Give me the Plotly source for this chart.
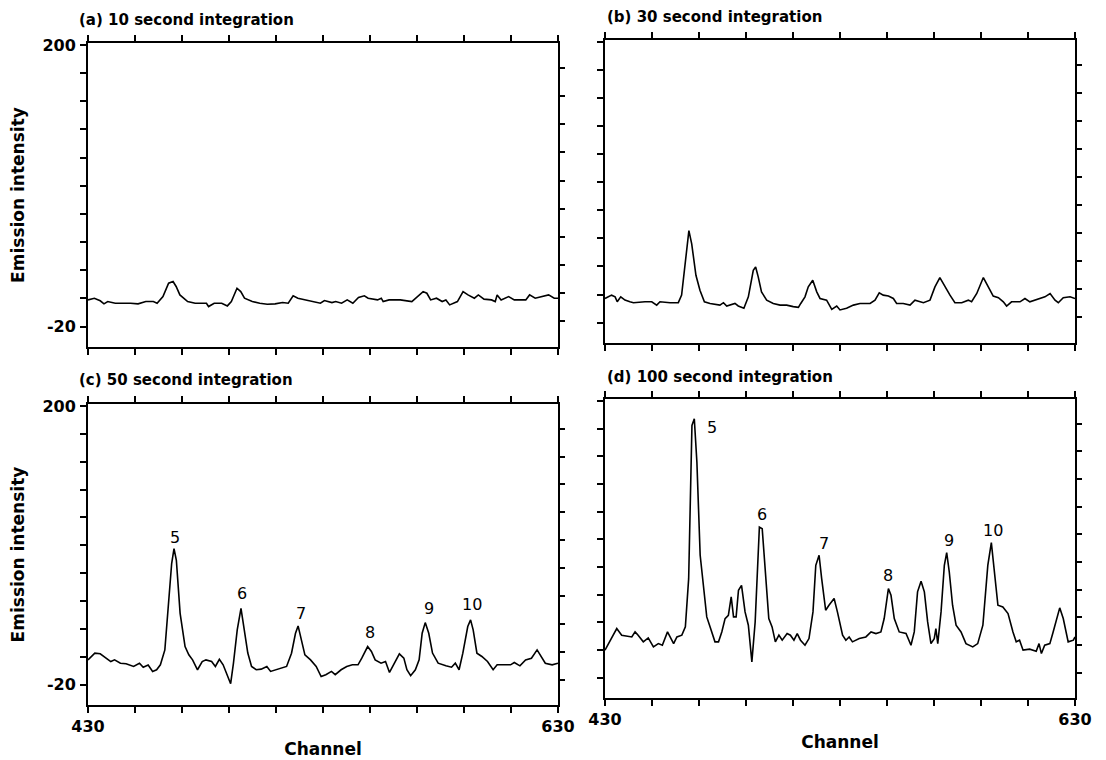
import plotly.graph_objects as go

# ---------------- data ----------------
CH_A = [430, 432.7, 435.2, 436.8, 438.4, 441.6, 448.1, 451.3, 454.6, 457.8,
        459.4, 461.9, 464.3, 466.2, 467.5, 469.1, 472.4, 475.6, 480.4, 481.3,
        483.7, 486.9, 489.3, 491.0, 493.4, 495.0, 496.6, 499.9, 503.1, 506.3,
        509.6, 512.8, 515.2, 517.3, 519.3, 522.5, 525.7, 528.9, 530.6, 533.8,
        535.4, 537.9, 540.3, 542.7, 545.1, 547.6, 549.2, 553.2, 554.8, 555.6,
        558.1, 562.9, 567.8, 570.2, 572.6, 574.2, 575.8, 578.3, 580.7, 582.3,
        583.9, 587.2, 589.6, 591.7, 594.4, 596.1, 598.5, 601.7, 603.3, 604.1,
        605.8, 609.0, 611.4, 616.3, 617.9, 620.3, 622.7, 626.0, 628.4, 630]
VAL_A = [0.8, 2.1, 0.1, -2.3, -0.5, -1.8, -1.8, -2.3, -0.5, -0.5,
         -1.8, 3.4, 13.9, 15.2, 11.3, 4.7, -0.5, -1.8, -1.8, -4.4,
         -1.8, -1.8, -3.9, -0.5, 9.9, 7.3, 2.1, -0.5, -1.8, -2.6,
         -2.3, -1.3, -1.8, 4.0, 2.1, 0.8, -0.5, -1.8, 0.3, -1.3,
         -0.5, -1.8, 0.8, -1.8, 2.7, 4.0, 2.1, 0.8, 2.1, -0.5,
         0.8, 0.8, -0.5, 3.4, 7.3, 6.0, 0.8, 2.1, -0.5, 0.8,
         -3.1, -0.5, 7.3, 4.7, 2.1, 4.7, 1.4, 0.8, -0.5, 4.7,
         0.8, 3.4, 0.8, 0.8, 4.7, 2.1, 3.4, 4.7, 2.1, 2.1]

CH_B = [430, 432.8, 434.3, 435.2, 436.7, 438.5, 440.6, 442.1, 447.0, 449.9,
        452.0, 453.4, 457.7, 461.2, 462.6, 464.0, 465.7, 466.9, 468.7, 470.4,
        472.3, 474.7, 478.9, 480.4, 481.8, 485.3, 486.7, 489.1, 491.0, 493.1,
        494.1, 495.2, 496.6, 498.8, 501.6, 504.5, 507.3, 510.1, 512.3, 513.3,
        515.1, 516.5, 518.4, 520.1, 521.5, 524.3, 526.5, 528.6, 530.0, 532.8,
        535.7, 538.5, 542.8, 544.9, 546.7, 548.4, 550.6, 552.7, 554.1, 556.9,
        559.8, 561.9, 565.5, 568.3, 570.4, 572.5, 574.7, 576.8, 578.9, 581.8,
        584.6, 586.0, 588.2, 591.0, 593.1, 595.2, 597.4, 599.5, 600.9, 603.0,
        606.6, 608.7, 610.8, 613.7, 617.2, 619.4, 621.5, 622.9, 625.0, 627.9,
        630]
VAL_B = [-1.1, 1.5, 0.2, -3.7, 0.2, -2.4, -3.7, -4.4, -3.7, -3.7,
         -6.3, -3.7, -4.4, -4.4, 1.5, 26.2, 52.1, 41.7, 17.1, 5.4,
         -3.7, -5.0, -6.3, -4.4, -7.0, -5.0, -7.0, -8.8, 0.2, 21.0,
         23.6, 15.8, 4.1, -2.4, -5.0, -6.3, -6.3, -7.5, -8.1, -5.0,
         0.2, 8.0, 13.2, 4.1, -1.1, -2.4, -9.6, -7.0, -10.1, -8.8,
         -6.3, -5.0, -5.0, -2.4, 3.3, 1.5, 0.8, -1.1, -5.0, -5.0,
         -6.3, -2.4, -4.4, -2.4, 8.0, 15.3, 8.0, 1.5, -4.4, -4.4,
         -2.4, -3.7, 2.8, 15.3, 8.0, 0.8, -0.5, -3.7, -7.0, -3.7,
         -3.7, -1.1, -3.7, -1.8, 0.2, 2.8, -2.4, -4.4, -0.5, 0.2,
         -1.1]

CH_C = [430.0, 432.9, 435.2, 437.3, 439.7, 441.3, 443.8, 446.2, 449.4, 451.9,
        453.5, 455.6, 457.5, 459.2, 460.8, 462.7, 464.0, 465.6, 466.6, 467.6,
        469.2, 471.3, 472.9, 474.5, 476.6, 478.6, 480.2, 482.6, 484.2, 485.9,
        487.5, 489.1, 490.7, 491.9, 493.5, 495.1, 496.4, 498.0, 499.6, 501.6,
        503.7, 506.1, 507.7, 510.1, 512.2, 514.5, 516.6, 518.3, 519.4, 520.7,
        522.3, 524.7, 527.1, 529.2, 531.2, 533.6, 535.2, 537.7, 540.1, 542.5,
        544.9, 546.5, 549.0, 550.6, 552.2, 554.7, 556.6, 558.3, 560.4, 562.5,
        564.4, 565.7, 567.3, 569.3, 570.9, 572.2, 573.5, 575.0, 576.6, 579.0,
        582.3, 584.7, 586.3, 587.9, 589.5, 591.6, 592.8, 593.9, 595.5, 597.6,
        600.0, 602.4, 604.1, 606.5, 609.8, 611.4, 613.8, 616.2, 618.7, 621.1,
        622.7, 624.6, 627.5, 630.0]
VAL_C = [-0.4, 4.9, 4.4, 1.8, -1.7, -0.4, -3.0, -3.5, -5.6, -3.0,
         -6.2, -4.4, -9.5, -8.2, -4.3, 7.5, 36.3, 75.6, 87.4, 78.2,
         36.3, 10.1, 3.6, -0.4, -8.2, -1.7, -0.4, -1.7, -5.6, 0.1,
         -4.3, -12.1, -19.2, -3.0, 23.2, 40.2, 25.9, 5.0, -5.6, -8.2,
         -7.7, -5.6, -9.5, -8.2, -6.9, -5.6, 4.9, 20.6, 26.4, 15.4,
         3.6, -0.4, -5.6, -13.5, -12.1, -9.5, -12.1, -8.2, -5.6, -4.3,
         -4.3, 0.9, 10.1, 6.2, -0.4, -3.0, -1.7, -10.3, -3.0, 4.4,
         1.0, -8.2, -12.9, -8.2, -0.4, 20.6, 29.0, 20.6, 5.0, -3.0,
         -5.1, -6.2, -3.0, -8.2, 4.9, 25.9, 31.2, 23.3, 4.9, 2.3,
         -1.7, -8.2, -4.3, -4.3, -4.3, -2.5, -5.1, -0.4, 0.9, 7.5,
         2.3, -3.0, -4.3, -3.0]

CH_D = [430.0, 435.0, 437.1, 441.4, 442.8, 444.1, 446.3, 448.4, 450.6, 452.7,
        454.4, 456.6, 459.2, 460.6, 462.7, 464.2, 465.6, 467.0, 468.0, 469.1,
        470.5, 471.9, 473.3, 474.7, 476.8, 478.3, 479.7, 481.1, 482.5, 483.7,
        484.7, 485.8, 486.8, 488.1, 489.6, 491.0, 492.5, 493.9, 495.7, 496.9,
        498.3, 499.7, 501.1, 502.5, 504.0, 505.4, 507.5, 508.9, 510.4, 511.8,
        513.2, 515.1, 516.8, 518.5, 519.7, 521.1, 522.2, 523.9, 525.3, 527.5,
        528.9, 531.1, 532.5, 533.9, 535.3, 538.2, 541.0, 543.2, 545.3, 547.4,
        548.8, 550.6, 551.7, 553.1, 555.2, 558.1, 560.2, 561.6, 563.0, 564.5,
        565.9, 567.3, 568.7, 570.1, 570.8, 571.6, 573.0, 574.4, 575.4, 576.5,
        577.9, 579.4, 581.5, 583.6, 586.5, 588.6, 590.8, 592.9, 594.4, 595.8,
        597.2, 599.3, 601.5, 603.6, 605.0, 606.4, 607.9, 610.7, 613.5, 614.7,
        615.7, 617.1, 619.3, 620.7, 623.5, 625.0, 627.1, 629.3, 630.0]
VAL_D = [2.0, 19.2, 13.9, 12.5, 16.5, 13.9, 8.6, 11.7, 4.6, 7.2,
         5.9, 16.5, 7.2, 12.5, 13.9, 20.5, 58.8, 180.5, 185.8, 151.4,
         77.4, 53.5, 28.4, 20.5, 8.6, 8.6, 16.5, 27.1, 29.7, 44.3,
         28.4, 28.4, 49.6, 53.5, 32.4, 21.8, -7.3, 24.4, 99.8, 98.5,
         64.1, 27.1, 20.5, 8.6, 13.9, 9.9, 15.2, 13.9, 9.9, 15.2,
         9.9, 5.9, 11.2, 32.4, 69.4, 77.4, 58.8, 33.7, 37.7, 43.0,
         32.4, 13.9, 9.9, 12.5, 8.6, 11.2, 12.5, 16.5, 15.2, 16.5,
         27.1, 50.9, 45.6, 27.1, 16.5, 15.2, 5.9, 16.5, 48.3, 56.7,
         48.3, 24.4, 7.2, 11.2, 19.2, 7.2, 32.4, 69.4, 79.5, 64.1,
         37.7, 21.8, 16.5, 7.2, 4.6, 7.2, 21.8, 69.4, 87.4, 64.1,
         37.7, 36.3, 31.1, 16.5, 8.6, 9.9, 2.0, 2.8, 1.2, 7.2,
         -0.7, 5.9, 7.2, 16.5, 35.6, 27.1, 8.6, 9.9, 12.5]

PANEL_TITLES = ["(a) 10 second integration", "(b) 30 second integration",
                "(c) 50 second integration", "(d) 100 second integration"]

PEAK_LABELS = ["5", "6", "7", "8", "9", "10"]
PEAK_X_C = [467.2, 495.6, 520.7, 549.8, 575.0, 593.6]
PEAK_Y_C = [96.5, 52.0, 36.0, 21.4, 40.0, 43.6]
PEAK_X_D = [475.5, 497.0, 523.0, 550.6, 576.3, 595.0]
PEAK_Y_D = [179.0, 110.0, 86.6, 61.0, 89.0, 97.0]

X_TICKS = [430, 450, 470, 490, 510, 530, 550, 570, 590, 610, 630]
X_TICK_TEXT = ["430", "", "", "", "", "", "", "", "", "", "630"]
Y_TICKS = [-20, 2, 24, 46, 68, 90, 112, 134, 156, 178, 200]
Y_TICK_TEXT = ["-20", "", "", "", "", "", "", "", "", "", "200"]
Y_TICKS_RIGHT = [-16, 6, 28, 50, 72, 94, 116, 138, 160, 182]

X_RANGE = [430, 630]
Y_RANGE = [-36, 201.5]

# ---------------- layout geometry ----------------
W, H = 1106, 760
OFF = 8  # page body margin offset of the rendered figure
FONT = "DejaVu Sans"


def px_x(v):
    return (v - OFF) / W


def px_y(v):
    return 1 - (v - OFF) / H


dom = {
    1: ([px_x(88), px_x(558)], [px_y(347), px_y(43)]),
    2: ([px_x(605), px_x(1075)], [px_y(343), px_y(40)]),
    3: ([px_x(88), px_x(558)], [px_y(705), px_y(404)]),
    4: ([px_x(605), px_x(1075)], [px_y(698), px_y(399)]),
}

fig = go.Figure()
series = [(CH_A, VAL_A), (CH_B, VAL_B), (CH_C, VAL_C), (CH_D, VAL_D)]
for i, (cx, cy) in enumerate(series, start=1):
    sfx = "" if i == 1 else str(i)
    fig.add_trace(go.Scatter(x=cx, y=cy, mode="lines",
                             line=dict(color="black", width=1.6),
                             xaxis="x" + sfx, yaxis="y" + sfx,
                             showlegend=False, hoverinfo="skip"))
    fig.add_trace(go.Scatter(x=[None], y=[None], mode="lines",
                             xaxis="x" + sfx, yaxis="y" + str(i + 4),
                             showlegend=False, hoverinfo="skip"))

layout = dict(width=W, height=H,
              margin=dict(l=0, r=0, t=0, b=0, pad=0, autoexpand=False),
              paper_bgcolor="white", plot_bgcolor="white",
              font=dict(family=FONT, color="black", size=16))

for i in range(1, 5):
    sfx = "" if i == 1 else str(i)
    xd, yd = dom[i]
    bottom = i in (3, 4)
    left = i in (1, 3)
    layout["xaxis" + sfx] = dict(
        domain=xd, anchor="y" + sfx, range=X_RANGE, automargin=False,
        tickvals=X_TICKS, ticktext=X_TICK_TEXT, showticklabels=bottom,
        ticks="outside", ticklen=6, tickwidth=2, tickcolor="black",
        showline=True, linewidth=2, linecolor="black", mirror="ticks",
        showgrid=False, zeroline=False,
        tickfont=dict(family=FONT, size=16, weight="bold"),
        title=dict(text="Channel" if bottom else "",
                   font=dict(family=FONT, size=17, weight="bold"), standoff=8),
    )
    layout["yaxis" + sfx] = dict(
        domain=yd, anchor="x" + sfx, range=Y_RANGE, automargin=False,
        tickvals=Y_TICKS, ticktext=Y_TICK_TEXT, showticklabels=left,
        ticks="outside", ticklen=6, tickwidth=2, tickcolor="black",
        showline=True, linewidth=2, linecolor="black", mirror=True,
        showgrid=False, zeroline=False, ticklabelstandoff=1,
        tickfont=dict(family=FONT, size=16, weight="bold"),
        title=dict(text="Emission intensity" if left else "",
                   font=dict(family=FONT, size=17, weight="bold"), standoff=18),
    )
    layout["yaxis" + str(i + 4)] = dict(
        overlaying="y" + sfx, anchor="x" + sfx, side="right", range=Y_RANGE,
        tickvals=Y_TICKS_RIGHT, showticklabels=False, automargin=False,
        ticks="outside", ticklen=6, tickwidth=2, tickcolor="black",
        showline=False, showgrid=False, zeroline=False,
    )

annotations = []
title_pos = [(px_x(77), px_y(20)), (px_x(605), px_y(17)),
             (px_x(77), px_y(380)), (px_x(605), px_y(377))]
for t, (tx, ty) in zip(PANEL_TITLES, title_pos):
    annotations.append(dict(text=t, x=tx, y=ty, xref="paper", yref="paper",
                            xanchor="left", yanchor="middle", showarrow=False,
                            font=dict(family=FONT, size=15, weight="bold")))
for lab, px, py in zip(PEAK_LABELS, PEAK_X_C, PEAK_Y_C):
    annotations.append(dict(text=lab, x=px, y=py, xref="x3", yref="y3",
                            showarrow=False, font=dict(family=FONT, size=16)))
for lab, px, py in zip(PEAK_LABELS, PEAK_X_D, PEAK_Y_D):
    annotations.append(dict(text=lab, x=px, y=py, xref="x4", yref="y4",
                            showarrow=False, font=dict(family=FONT, size=16)))
layout["annotations"] = annotations

fig.update_layout(**layout)
fig.write_html("out.html")
